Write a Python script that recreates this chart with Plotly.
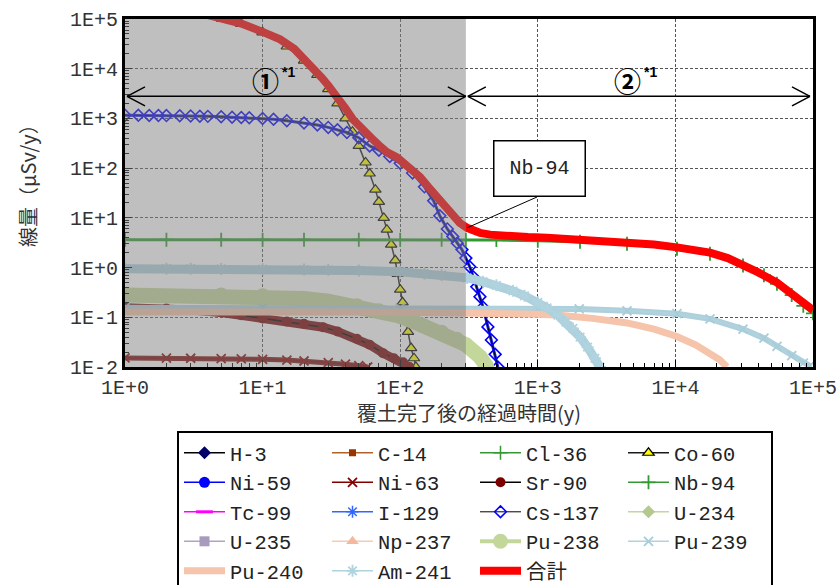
import math
import plotly.graph_objects as go

# ---------------- data ----------------
x_tick_vals = [1, 10, 100, 1000, 10000, 100000]
x_tick_text = ["1E+0", "1E+1", "1E+2", "1E+3", "1E+4", "1E+5"]
y_tick_vals = [0.01, 0.1, 1, 10, 100, 1000, 10000, 100000]
y_tick_text = ["1E-2", "1E-1", "1E+0", "1E+1", "1E+2", "1E+3", "1E+4", "1E+5"]

shade_end_year = 300      # end of period 1 (grey region)
arrow_level = 2780        # dose level of the period arrows

co60_t = [4.5, 5.1, 7, 10, 15, 20, 25, 30, 35, 40, 45, 50, 56, 60, 66, 70, 76, 80, 86,
          92, 96, 100, 104, 108, 114, 120, 126, 130]
co60_v = [1.25e5, 1.0e5, 8.0e4, 5.4e4, 2.8e4, 1.45e4, 7.5e3, 3.9e3, 2.0e3, 1.0e3, 540, 280,
          130, 78, 37, 21, 10, 5.8, 2.9, 1.4, 0.75, 0.36, 0.2, 0.11, 0.051, 0.024, 0.015, 0.01]

ni63_t = [1, 2, 3, 5, 7, 10, 15, 20, 30, 40, 50, 58]
ni63_v = [0.0152, 0.0151, 0.015, 0.0148, 0.0146, 0.0143, 0.0138, 0.0132, 0.0123, 0.0114,
          0.0106, 0.0100]

sr90_t = [1, 2, 3, 5, 7, 10, 15, 20, 27.5, 35, 48.5, 60, 75, 90, 105, 117]
sr90_v = [0.155, 0.15, 0.14, 0.125, 0.11, 0.095, 0.082, 0.074, 0.063, 0.052, 0.037, 0.028,
          0.019, 0.015, 0.0125, 0.01]

nb94_t = [1, 2, 5, 10, 20, 50, 100, 200, 300, 500, 1000, 2027, 4450, 10270, 17840, 31000,
          44000, 54700, 70000, 85000, 100000]
nb94_v = [3.63, 3.63, 3.63, 3.63, 3.63, 3.63, 3.62, 3.62, 3.61, 3.58, 3.45, 3.3, 3.0, 2.4,
          1.9, 1.1, 0.7, 0.47, 0.28, 0.17, 0.12]

cs137_t = [1, 1.25, 1.5, 1.75, 2, 2.5, 3, 3.5, 4, 5, 6, 7, 8, 10, 12, 15, 20, 25, 30, 35, 41,
           50, 60, 70, 84, 100, 123, 150, 175, 194, 220, 241, 260, 281, 300, 320, 340, 360,
           380, 400, 434, 460, 490, 513]
cs137_v = [1160, 1155, 1150, 1145, 1140, 1130, 1120, 1110, 1100, 1080, 1060, 1045, 1030, 1000,
           960, 900, 810, 740, 660, 590, 522, 410, 280, 230, 171, 125, 80, 42, 22, 11, 6, 4.2,
           3.1, 2.3, 1.55, 1.04, 0.65, 0.41, 0.26, 0.16, 0.064, 0.035, 0.018, 0.01]

pu238_t = [1, 5, 10, 20, 30, 48.5, 70, 100, 146, 200, 258, 300, 380, 427]
pu238_v = [0.28, 0.28, 0.27, 0.24, 0.21, 0.17, 0.135, 0.105, 0.068, 0.05, 0.036, 0.028,
           0.016, 0.01]

pu239_t = [1, 10, 100, 1000, 2000, 4450, 10270, 17840, 31000, 44000, 54700, 70000, 85000,
           95000]
pu239_v = [0.155, 0.155, 0.155, 0.15, 0.147, 0.135, 0.118, 0.093, 0.058, 0.038, 0.026, 0.017,
           0.012, 0.0105]

pu240_t = [1, 10, 100, 1000, 1450, 2500, 4450, 7000, 10270, 14000, 17840, 21000, 23700]
pu240_v = [0.128, 0.128, 0.127, 0.115, 0.11, 0.095, 0.077, 0.058, 0.041, 0.028, 0.019,
           0.014, 0.01]

am241_t = [1, 2, 3, 5, 10, 20, 30, 50, 100, 150, 200, 306, 400, 500, 660, 800, 1000, 1167,
           1400, 1600, 1800, 2030, 2300, 2600, 2830]
am241_v = [0.95, 0.95, 0.95, 0.94, 0.93, 0.91, 0.9, 0.87, 0.82, 0.76, 0.71, 0.62, 0.52, 0.44,
           0.34, 0.27, 0.2, 0.155, 0.11, 0.08, 0.06, 0.04, 0.025, 0.015, 0.01]

total_t = [4, 5.1, 7, 10, 13.4, 17, 20, 23.2, 27, 30, 34.7, 40, 45.4, 50, 56, 63.4, 70, 80,
           94.8, 110, 125, 139, 160, 185, 210, 242, 270, 306, 340, 380, 450, 550, 660, 850,
           1167, 1500, 2027, 3000, 4450, 7000, 10270, 14000, 17840, 24000, 31000, 40000,
           54700, 70000, 85000, 100000]
total_v = [1.2e5, 1.02e5, 8.1e4, 5.5e4, 3.9e4, 2.5e4, 1.6e4, 1.0e4, 6.5e3, 4.6e3, 2.8e3,
           1.6e3, 950, 700, 520, 377, 290, 210, 165, 115, 85, 67, 42, 26.7, 17, 10.6, 8, 6.3,
           5.5, 5.0, 4.6, 4.35, 4.2, 4.1, 4.0, 3.85, 3.65, 3.45, 3.2, 2.9, 2.55, 2.25, 2.0,
           1.55, 1.15, 0.8, 0.5, 0.3, 0.2, 0.14]

# nuclides that never rise above the axis floor (legend entries only)
none_t = [None]
none_v = [None]

# ---------------- figure ----------------
W, H = 839, 585
ML, MR, MT, MB = 125, 26, 19, 218
PW, PH = W - ML - MR, H - MT - MB

TICK_FONT = "Liberation Mono, Noto Sans CJK JP, monospace"
CJK_FONT = "Noto Sans CJK JP, Liberation Serif, serif"

fig = go.Figure()


def add_series(name, t, v, line, marker=None, band=None, mode="lines+markers"):
    if band is not None:
        fig.add_trace(go.Scatter(x=t, y=v, mode="lines", showlegend=False,
                                 hoverinfo="skip", legendgroup=name,
                                 line=dict(color=band[0], width=band[1])))
    kw = dict(x=t, y=v, name=name, mode=mode, legendgroup=name, line=line)
    if marker is not None:
        kw["marker"] = marker
    fig.add_trace(go.Scatter(**kw))


add_series("H-3", none_t, none_v, dict(color="#000000", width=1.5),
           dict(symbol="diamond", size=10, color="#000066"))
add_series("C-14", none_t, none_v, dict(color="#B0622A", width=1.5),
           dict(symbol="square", size=7, color="#993300"))
add_series("Cl-36", none_t, none_v, dict(color="#339933", width=1.5),
           dict(symbol="cross-thin", size=10, line=dict(color="#339933", width=1.5)))
add_series("Co-60", co60_t, co60_v, dict(color="#1a1a1a", width=1.5),
           dict(symbol="triangle-up", size=10, color="#FFFF00",
                line=dict(color="#000000", width=1.2)))
add_series("Ni-59", none_t, none_v, dict(color="#0000FF", width=1.5),
           dict(symbol="circle", size=11, color="#0000FF"))
add_series("Ni-63", ni63_t, ni63_v, dict(color="#800000", width=1.5),
           dict(symbol="x-thin", size=9, line=dict(color="#8B0000", width=1.8)),
           band=("#7A1515", 5))
add_series("Sr-90", sr90_t, sr90_v, dict(color="#000000", width=1.5),
           dict(symbol="circle", size=10, color="#7A0000"),
           band=("#7A0A0A", 9))
add_series("Nb-94", nb94_t, nb94_v, dict(color="#339933", width=1.5),
           dict(symbol="cross-thin", size=10, line=dict(color="#339933", width=1.8)),
           band=("#339933", 3))
add_series("Tc-99", none_t, none_v, dict(color="#FF00FF", width=1.5),
           dict(symbol="line-ew", size=12, line=dict(color="#FF00FF", width=3)))
add_series("I-129", none_t, none_v, dict(color="#3366FF", width=1.5),
           dict(symbol="asterisk", size=10, line=dict(color="#3366FF", width=1.5)))
add_series("Cs-137", cs137_t, cs137_v, dict(color="#000000", width=1),
           dict(symbol="diamond-open", size=9, color="#0000FF",
                line=dict(color="#0000FF", width=1.6)),
           band=("#2020E0", 3))
add_series("U-234", none_t, none_v, dict(color="#C3D69B", width=1.5),
           dict(symbol="diamond", size=10, color="#B3C98E"))
add_series("U-235", none_t, none_v, dict(color="#B3A2C7", width=1.5),
           dict(symbol="square", size=10, color="#A99BBD"))
add_series("Np-237", none_t, none_v, dict(color="#F8CBAD", width=1.5),
           dict(symbol="triangle-up", size=11, color="#F4B8A0"))
add_series("Pu-238", pu238_t, pu238_v, dict(color="#C4D79B", width=4),
           dict(symbol="circle", size=15, color="#C4D79B"),
           band=("#C4D79B", 15))
add_series("Pu-239", pu239_t, pu239_v, dict(color="#B0D4DF", width=1.5),
           dict(symbol="x-thin", size=9, line=dict(color="#A8CCD8", width=1.8)),
           band=("#AED0DC", 6))
add_series("Pu-240", pu240_t, pu240_v, dict(color="#F5C4AA", width=7), mode="lines")
add_series("Am-241", am241_t, am241_v, dict(color="#B0D4DF", width=1.5),
           dict(symbol="asterisk-open", size=10, line=dict(color="#A8CCD8", width=1.8)),
           band=("#AED0DC", 9))
add_series("合計", total_t, total_v, dict(color="#FF0000", width=8), mode="lines")

# ---------------- shapes: shading, arrows, leader line ----------------
xs = math.log10(shade_end_year) / 5.0
ya = (math.log10(arrow_level) + 2) / 7.0
dx = 18.0 / PW
dy = 9.5 / PH

shapes = [dict(type="rect", xref="x domain", yref="y domain", x0=0, x1=xs, y0=0, y1=1,
               fillcolor="rgba(128,128,128,0.5)", line=dict(width=0), layer="above")]


def seg(x0, y0, x1, y1, w=1.5):
    return dict(type="line", xref="x domain", yref="y domain", x0=x0, y0=y0, x1=x1, y1=y1,
                line=dict(color="#000000", width=w), layer="above")


a1, b1 = 2.0 / PW, xs
a2, b2 = xs + 2.0 / PW, 1 - 3.0 / PW
for a, b in [(a1, b1), (a2, b2)]:
    shapes.append(seg(a, ya, b, ya))
    shapes.append(seg(a, ya, a + dx, ya + dy))
    shapes.append(seg(a, ya, a + dx, ya - dy))
    shapes.append(seg(b, ya, b - dx, ya + dy))
    shapes.append(seg(b, ya, b - dx, ya - dy))

# leader line from the Nb-94 box to the total curve at the end of period 1
box_cx, box_cy, box_w, box_h = 539.5, 168.5, 93, 57
lead_x0 = (537 - ML) / PW
lead_y0 = (MT + PH - (box_cy + box_h / 2)) / PH
lead_x1 = math.log10(306) / 5.0
lead_y1 = (math.log10(6.3) + 2) / 7.0
shapes.append(seg(lead_x0, lead_y0, lead_x1, lead_y1, w=1))


def px(xp):
    return (xp - ML) / PW


def py(yp):
    return (MT + PH - yp) / PH


annotations = [
    dict(xref="paper", yref="paper", x=px(box_cx), y=py(box_cy), text="Nb-94",
         showarrow=False, xanchor="center", yanchor="middle", width=box_w - 5,
         height=box_h - 5, bgcolor="#FFFFFF", bordercolor="#000000", borderwidth=1.5,
         borderpad=1, font=dict(family=TICK_FONT, size=20, color="#222222")),
    dict(xref="paper", yref="paper", x=px(265), y=py(80), text="<b>①</b>", showarrow=False,
         xanchor="center", yanchor="middle",
         font=dict(family=CJK_FONT, size=27, color="#000000")),
    dict(xref="paper", yref="paper", x=px(288), y=py(72), text="<b>*1</b>", showarrow=False,
         xanchor="center", yanchor="middle",
         font=dict(family="Liberation Sans, Arial, sans-serif", size=14, color="#000000")),
    dict(xref="paper", yref="paper", x=px(627.5), y=py(80), text="<b>②</b>", showarrow=False,
         xanchor="center", yanchor="middle",
         font=dict(family=CJK_FONT, size=27, color="#000000")),
    dict(xref="paper", yref="paper", x=px(650), y=py(72), text="<b>*1</b>", showarrow=False,
         xanchor="center", yanchor="middle",
         font=dict(family="Liberation Sans, Arial, sans-serif", size=14, color="#000000")),
    dict(xref="paper", yref="paper", x=px(469), y=py(412), text="覆土完了後の経過時間(y)",
         showarrow=False, xanchor="center", yanchor="middle",
         font=dict(family=CJK_FONT, size=20, color="#333333")),
    dict(xref="paper", yref="paper", x=px(27), y=py(181), text="線量（μSv/y）",
         showarrow=False, xanchor="center", yanchor="middle", textangle=-90,
         font=dict(family=CJK_FONT, size=20, color="#333333")),
]

axis_common = dict(
    type="log", showline=True, linewidth=3, linecolor="#000000", mirror=True,
    ticks="inside", ticklen=7, tickwidth=1, tickcolor="#000000",
    showgrid=True, gridcolor="#555555", gridwidth=1, griddash="3px,2px",
    zeroline=False, tickmode="array",
    tickfont=dict(family=TICK_FONT, size=20, color="#333333"),
    minor=dict(ticks="inside", ticklen=4, tickcolor="#000000", tickwidth=1,
               dtick="D1", showgrid=False),
)

fig.update_layout(
    width=W, height=H,
    margin=dict(l=ML, r=MR, t=MT, b=MB, autoexpand=False),
    paper_bgcolor="#FFFFFF", plot_bgcolor="#FFFFFF",
    xaxis=dict(range=[0, 5], tickvals=x_tick_vals, ticktext=x_tick_text, **axis_common),
    yaxis=dict(range=[-2, 5], tickvals=y_tick_vals, ticktext=y_tick_text, **axis_common),
    shapes=shapes,
    annotations=annotations,
    showlegend=True,
    legend=dict(orientation="h", x=px(177), y=py(431), xanchor="left", yanchor="top",
                bgcolor="#FFFFFF", bordercolor="#000000", borderwidth=2,
                font=dict(family=TICK_FONT, size=20.4, color="#222222"),
                itemwidth=41, entrywidth=92, entrywidthmode="pixels",
                traceorder="normal", itemclick=False, itemdoubleclick=False),
    hovermode=False,
)

fig.write_html("out.html", post_script="document.body.style.margin='0';",
               config={"displayModeBar": False})
